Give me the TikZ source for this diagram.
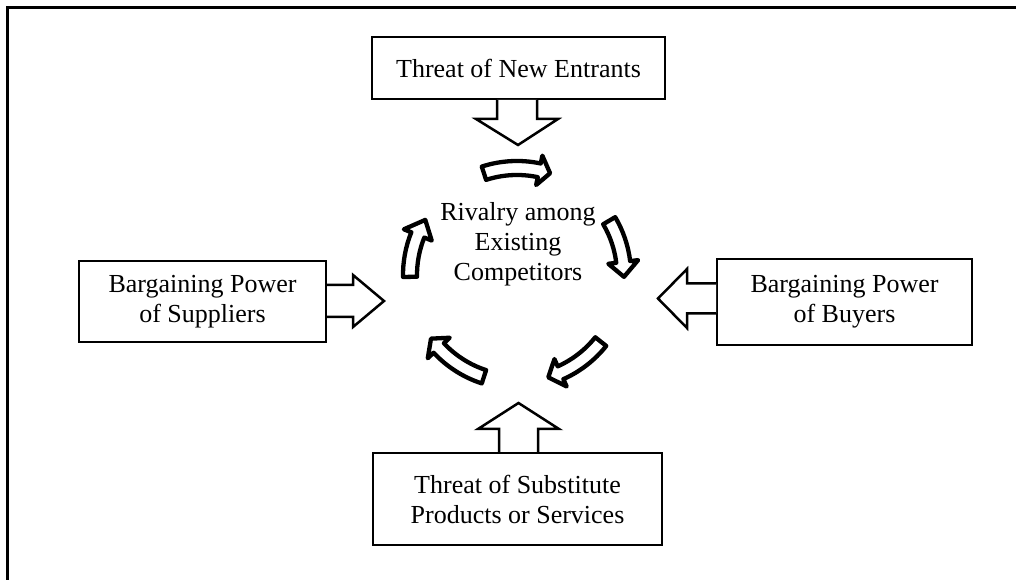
\documentclass[tikz,border=0pt]{standalone}
\usepackage{fontspec}
\setmainfont{Liberation Serif}
\usetikzlibrary{calc}

% one arc of the rivalry cycle: start angle, head base angle, tip angle (clockwise)
\newcommand\cyclearrow[3]{%
  \draw[cycarrow]
    ($(C)+(#1:114pt)$) arc[start angle=#1, end angle=#2, radius=114pt]
    -- ($(C)+(#2:122pt)$) -- ($(C)+(#3:107pt)$) -- ($(C)+(#2:92pt)$)
    -- ($(C)+(#2:100pt)$) arc[start angle=#2, end angle=#1, radius=100pt]
    -- cycle;}

\begin{document}
\begin{tikzpicture}[x=1pt, y=1pt,
  force/.style={draw, line width=2pt, inner sep=0pt, align=center,
    font=\fontsize{26}{30}\selectfont},
  blockarrow/.style={draw, fill=white, line width=2.5pt, line join=miter},
  cycarrow/.style={draw, fill=white, line width=4.3pt, line join=round},
  frame/.style={line width=3pt}]
\useasboundingbox (0,0) rectangle (1016,580);

% frame (top and left edges)
\draw[frame] (7.5,0) -- (7.5,572.5) -- (1016,572.5);

% the five forces
\node[force, minimum width=293pt, minimum height=62pt] (top) at (518.5,512) {Threat of New Entrants};
\node[force, minimum width=247pt, minimum height=81pt] (left) at (202.5,278.5) {Bargaining Power\\of Suppliers};
\node[force, minimum width=255pt, minimum height=86pt] (right) at (844.5,278) {Bargaining Power\\of Buyers};
\node[force, minimum width=289pt, minimum height=92pt] (bottom) at (517.5,81) {Threat of Substitute\\Products or Services};
\node[align=center, inner sep=0pt, font=\fontsize{26}{30}\selectfont] (rivalry) at (518,336)
  {Rivalry among\\Existing\\Competitors};

% block arrows from each force toward the centre
\draw[blockarrow] ($(top.south)+(-21.5,0)$) -- ++(0,-19) -- ++(-21,0) -- ++(42,-26)
  -- ++(40,26) -- ++(-21,0) -- ++(0,19);
\draw[blockarrow] ($(left.east)+(0,16.5)$) -- ++(26,0) -- ++(0,10) -- ++(31,-26)
  -- ++(-31,-26) -- ++(0,10) -- ++(-26,0);
\draw[blockarrow] ($(right.west)+(0,18.5)$) -- ++(-29,0) -- ++(0,14.5) -- ++(-29,-29.5)
  -- ++(29,-29.5) -- ++(0,14.5) -- ++(29,0);
\draw[blockarrow] ($(bottom.north)+(-18.5,0)$) -- ++(0,23) -- ++(-21,0) -- ++(40.5,26)
  -- ++(40.5,-26) -- ++(-21,0) -- ++(0,-23);

% rivalry cycle
\coordinate (C) at (517,305);
\cyclearrow{108}{78}{72}
\cyclearrow{30.5}{7}{-1}
\cyclearrow{-38.5}{-66}{-73}
\cyclearrow{-108}{-137}{-143.5}
\cyclearrow{181}{158}{149}
\end{tikzpicture}
\end{document}
